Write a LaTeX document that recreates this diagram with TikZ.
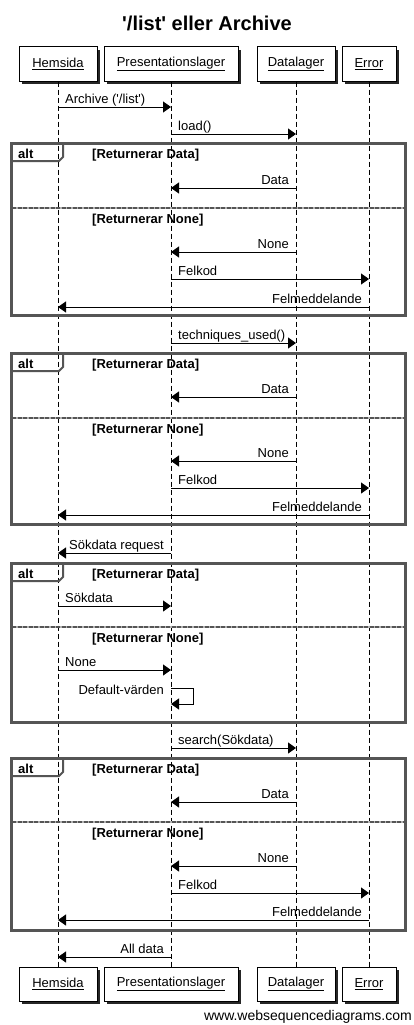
\documentclass[tikz,border=0pt]{standalone}
\usepackage{fontspec}
\setmainfont{Liberation Sans}
\usepackage{tikz}
\usetikzlibrary{arrows.meta,shadows}

\definecolor{framegray}{RGB}{85,85,85}

\tikzset{
  ptbox/.style={draw=black, fill=white, line width=1pt, minimum height=34pt,
    inner sep=0pt, drop shadow={shadow xshift=3pt, shadow yshift=-3pt, fill=black!85, opacity=1}},
  lifeline/.style={black, line width=1pt, dash pattern=on 5pt off 3pt},
  msg/.style={black, line width=1pt, -{Triangle[length=8pt,width=11pt]}},
  lblR/.style={anchor=base west, inner sep=0pt, xshift=7pt, yshift=3.5pt},
  lblL/.style={anchor=base east, inner sep=0pt, xshift=-7pt, yshift=3.5pt},
  frameline/.style={framegray, line width=3pt},
  tabline/.style={framegray, line width=2pt},
  sepback/.style={framegray!45, line width=2.5pt},
  sepline/.style={framegray, line width=2.5pt, dash pattern=on 4pt off 1.5pt},
  guard/.style={anchor=base west, inner sep=0pt, font=\fontsize{13}{15}\selectfont\bfseries}
}

% message to the right / to the left: name, from, to, y, label
\newcommand{\msgR}[5]{%
  \coordinate (#1-s) at (#2 |- 0,#4);
  \coordinate (#1-e) at (#3 |- 0,#4);
  \draw[msg] (#1-s) -- (#1-e);
  \node[lblR] (#1-l) at (#1-s) {#5};}
\newcommand{\msgL}[5]{%
  \coordinate (#1-s) at (#2 |- 0,#4);
  \coordinate (#1-e) at (#3 |- 0,#4);
  \draw[msg] (#1-s) -- (#1-e);
  \node[lblL] (#1-l) at (#1-s) {#5};}

% alt frame: name, top, separator, bottom
\newcommand{\altframe}[4]{%
  \draw[frameline] (11,#2) rectangle (405,#4);
  \draw[tabline] (11,#2+18) -- (59,#2+18) -- (63,#2+14) -- (63,#2);
  \draw[sepback] (12,#3) -- (404,#3);
  \draw[sepline] (12,#3) -- (404,#3);
  \node[guard] (#1-alt) at (18,#2+15) {alt};
  \node[guard] (#1-g1) at (92,#2+15) {[Returnerar Data]};
  \node[guard] (#1-g2) at (92,#3+15) {[Returnerar None]};}

\begin{document}
\begin{tikzpicture}[x=1pt, y=-1pt, font=\fontsize{13}{15}\selectfont]
    \useasboundingbox (0,0) rectangle (413,1025);
    \fill[white] (0,0) rectangle (413,1025);

    % Title
    \node[anchor=base, font=\fontsize{20}{24}\selectfont\bfseries] (title) at (207,31)
        {\textquotesingle/list\textquotesingle{} eller Archive};

    % Participants
    \node[ptbox, minimum width=78pt] (hemTop) at (58,64) {\underline{Hemsida}};
    \node[ptbox, minimum width=134pt] (presTop) at (171,64) {\underline{Presentationslager}};
    \node[ptbox, minimum width=78pt] (dataTop) at (296,64) {\underline{Datalager}};
    \node[ptbox, minimum width=54pt] (errTop) at (369,64) {\underline{Error}};
    \node[ptbox, minimum width=78pt] (hemBot) at (58,984) {\underline{Hemsida}};
    \node[ptbox, minimum width=134pt] (presBot) at (171,984) {\underline{Presentationslager}};
    \node[ptbox, minimum width=78pt] (dataBot) at (296,984) {\underline{Datalager}};
    \node[ptbox, minimum width=54pt] (errBot) at (369,984) {\underline{Error}};

    % Lifelines
    \foreach \p in {hem,pres,data,err}
        \draw[lifeline] (\p Top) -- (\p Bot);

    % Frames
    \altframe{fa}{143}{208}{315}
    \altframe{fb}{353}{418}{524}
    \altframe{fc}{563}{627}{722}
    \altframe{fd}{758}{822}{930}

    % Archive / load
    \msgR{m1}{hemTop}{presTop}{107}{Archive (\textquotesingle/list\textquotesingle)}
    \msgR{m2}{presTop}{dataTop}{134}{load()}
    \msgL{m3}{dataTop}{presTop}{188}{Data}
    \msgL{m4}{dataTop}{presTop}{252}{None}
    \msgR{m5}{presTop}{errTop}{279}{Felkod}
    \msgL{m6}{errTop}{hemTop}{307}{Felmeddelande}

    % techniques_used
    \msgR{m7}{presTop}{dataTop}{343}{techniques\_used()}
    \msgL{m8}{dataTop}{presTop}{397}{Data}
    \msgL{m9}{dataTop}{presTop}{461}{None}
    \msgR{m10}{presTop}{errTop}{488}{Felkod}
    \msgL{m11}{errTop}{hemTop}{515}{Felmeddelande}

    % Sökdata
    \msgL{m12}{presTop}{hemTop}{553}{Sökdata request}
    \msgR{m13}{hemTop}{presTop}{606}{Sökdata}
    \msgR{m14}{hemTop}{presTop}{670}{None}
    \coordinate (self-s) at (presTop |- 0,688);
    \coordinate (self-e) at (presTop |- 0,704);
    \draw[msg] (self-s) -- ++(22,0) |- (self-e);
    \node[lblL] (self-l) at (presTop |- 0,697.5) {Default-värden};

    % search
    \msgR{m15}{presTop}{dataTop}{748}{search(Sökdata)}
    \msgL{m16}{dataTop}{presTop}{802}{Data}
    \msgL{m17}{dataTop}{presTop}{866}{None}
    \msgR{m18}{presTop}{errTop}{893}{Felkod}
    \msgL{m19}{errTop}{hemTop}{920}{Felmeddelande}
    \msgL{m20}{presTop}{hemTop}{957}{All data}

    % Watermark
    \node[anchor=base east, inner sep=0pt, font=\fontsize{14}{16}\selectfont] (wsd) at (412,1020)
        {www.websequencediagrams.com};
\end{tikzpicture}
\end{document}
